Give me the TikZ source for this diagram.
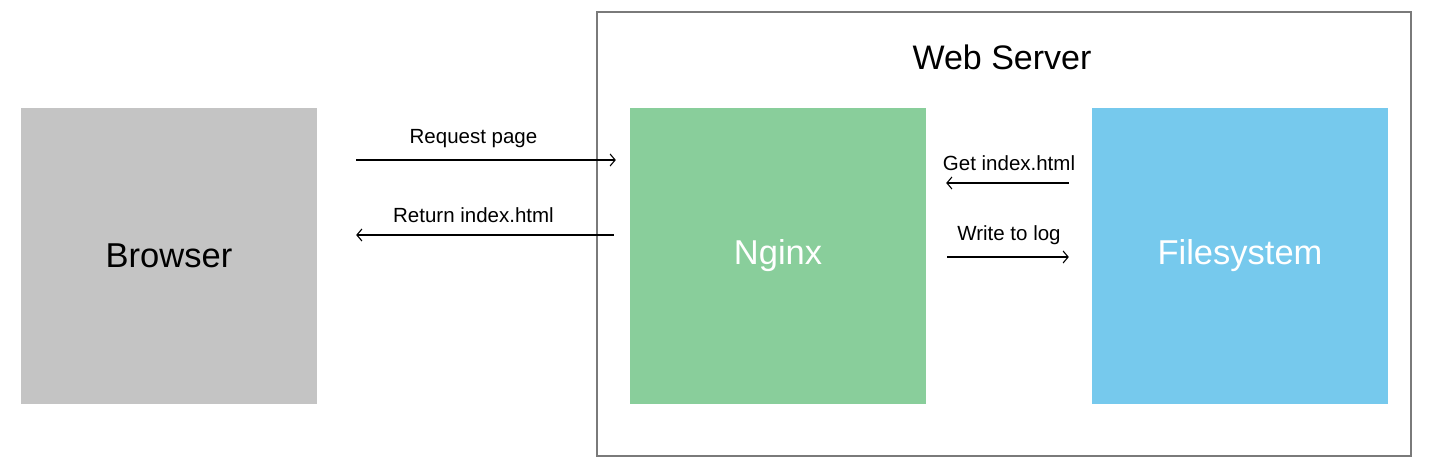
\documentclass[tikz,border=0pt]{standalone}
\usepackage{fontspec}
\setmainfont{Liberation Sans}
\usetikzlibrary{arrows.meta}
\definecolor{boxgray}{HTML}{C4C4C4}
\definecolor{boxgreen}{HTML}{89CE9B}
\definecolor{boxblue}{HTML}{76C9ED}
\definecolor{framegray}{HTML}{7A7A7A}
\begin{document}
\begin{tikzpicture}[x=1pt,y=-1pt,
  block/.style={rectangle, minimum width=296pt, minimum height=296pt, inner sep=0pt, font=\fontsize{34.5}{40}\selectfont},
  flow/.style={-{Straight Barb[length=5pt,width=12pt]}, line width=1.1pt},
  lbl/.style={font=\fontsize{20.5}{24}\selectfont, above=8pt, midway}]
\useasboundingbox (0,0) rectangle (1434,476);
\node[draw=framegray, line width=1.6pt, minimum width=814pt, minimum height=444pt] (server) at (1004,234){};
\node[font=\fontsize{34}{40}\selectfont] (title) at (1002,57){Web Server};
\node[block, fill=boxgray] (browser) at (169,256){Browser};
\node[block, fill=boxgreen, text=white] (nginx) at (778,256){Nginx};
\node[block, fill=boxblue, text=white] (fs) at (1240,256){Filesystem};
\draw[flow, shorten <=39pt, shorten >=14pt] ([yshift=96pt]browser.east) -- ([yshift=96pt]nginx.west) node[lbl]{Request page};
\draw[flow, shorten <=16pt, shorten >=39pt] ([yshift=21pt]nginx.west) -- ([yshift=21pt]browser.east) node[lbl]{Return index.html};
\draw[flow, shorten <=23pt, shorten >=20pt] ([yshift=73pt]fs.west) -- ([yshift=73pt]nginx.east) node[lbl]{Get index.html};
\draw[flow, shorten <=21pt, shorten >=23pt] ([yshift=-1pt]nginx.east) -- ([yshift=-1pt]fs.west) node[lbl]{Write to log};
\end{tikzpicture}
\end{document}
